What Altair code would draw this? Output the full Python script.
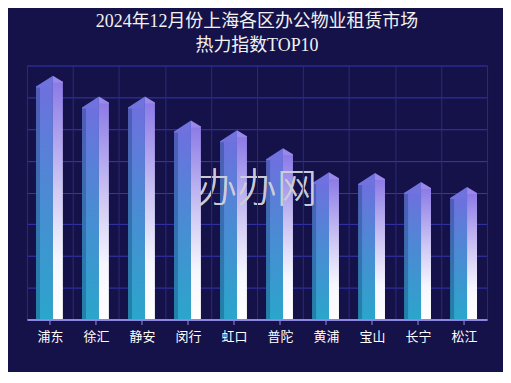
import altair as alt
import pandas as pd

districts = ["浦东", "徐汇", "静安", "闵行", "虹口", "普陀", "黄浦", "宝山", "长宁", "松江"]
heat_index = [76.8, 70.2, 70.2, 62.7, 59.6, 53.9, 46.4, 46.1, 43.3, 41.7]
grid_values = [0, 10, 20, 30, 40, 50, 60, 70, 80]

df = pd.DataFrame({"district": districts, "value": heat_index})

BG = "#151249"

x_axis = alt.Axis(title=None, grid=True, gridColor="#2c2a7c", gridWidth=1,
                  tickBand="extent", ticks=False, labelAngle=0,
                  labelColor="#ffffff", labelFontSize=13,
                  labelFont="Noto Sans CJK SC", labelPadding=11,
                  domainColor="#8c88e2", domainWidth=2, zindex=1)
x_scale = alt.Scale(paddingInner=0, paddingOuter=0)
y_scale = alt.Scale(domain=[0, 80], nice=False)
y_axis = alt.Axis(title=None, labels=False, ticks=False, domain=False,
                  grid=True, gridColor="#3636b0", gridWidth=1, values=grid_values)


def X():
    return alt.X("district:N", sort=None, scale=x_scale, axis=x_axis)


def Y(field):
    return alt.Y(field, scale=y_scale, axis=y_axis)


base = alt.Chart(df).transform_calculate(
    front="datum.value - 3.4", side="datum.value - 1.9"
)

front_grad = alt.Gradient(gradient="linear", x1=0, x2=0, y1=0, y2=1, stops=[
    alt.GradientStop(color="#6e70de", offset=0),
    alt.GradientStop(color="#4c8ad4", offset=0.45),
    alt.GradientStop(color="#2aa6cb", offset=1)])
side_grad = alt.Gradient(gradient="linear", x1=0, x2=0, y1=0, y2=1, stops=[
    alt.GradientStop(color="#8c7ae6", offset=0),
    alt.GradientStop(color="#cfc8f4", offset=0.45),
    alt.GradientStop(color="#f6f6ff", offset=0.75),
    alt.GradientStop(color="#ffffff", offset=1)])

front = base.mark_bar(width=17, xOffset=-5.5, color=front_grad).encode(
    x=X(), y=Y("front:Q"))
shade = base.mark_bar(width=4, xOffset=-12, color="#10305e", opacity=0.3).encode(
    x=X(), y=Y("front:Q"))
side = base.mark_bar(width=10, xOffset=8, color=side_grad).encode(
    x=X(), y=Y("side:Q"))

front_roof = base.mark_point(shape="M0 0 L-17 11 L-17 12 L0 12 Z", size=4, filled=True,
                             opacity=1, strokeWidth=0, color="#7072de", xOffset=3).encode(
    x=X(), y=Y("value:Q"))
side_roof = base.mark_point(shape="M0 0 L10 6 L10 7 L0 7 Z", size=4, filled=True,
                            opacity=1, strokeWidth=0, color="#9a88ea", xOffset=3).encode(
    x=X(), y=Y("value:Q"))

center_ticks = alt.Chart(df).mark_tick(orient="vertical", size=5, thickness=1.5,
                                       color="#8c88e2", yOffset=3).encode(
    x=X(), y=alt.Y(datum=0, scale=y_scale, axis=y_axis))

watermark = alt.Chart(df).mark_text(text="办办网", fontSize=40, font="Noto Sans CJK SC",
                                    fontWeight=300, color="#d0d0dc", opacity=0.3).encode(
    x=alt.value(231), y=alt.value(125))

chart = alt.layer(front, shade, side, front_roof, side_roof, center_ticks, watermark).properties(
    width=462, height=255,
    background=BG,
    padding={"left": 19, "top": 57, "right": 16, "bottom": 52},
    autosize=alt.AutoSizeParams(type="none"),
    title=alt.TitleParams(text=["2024年12月份上海各区办公物业租赁市场", "热力指数TOP10"],
                          color="#f2f2f2", fontSize=18, fontWeight="normal",
                          font="Liberation Serif, Noto Sans CJK SC", lineHeight=24,
                          anchor="middle", offset=11)
).configure_view(stroke=None)

chart.save("out.html", embed_options={"renderer": "svg", "actions": False})
